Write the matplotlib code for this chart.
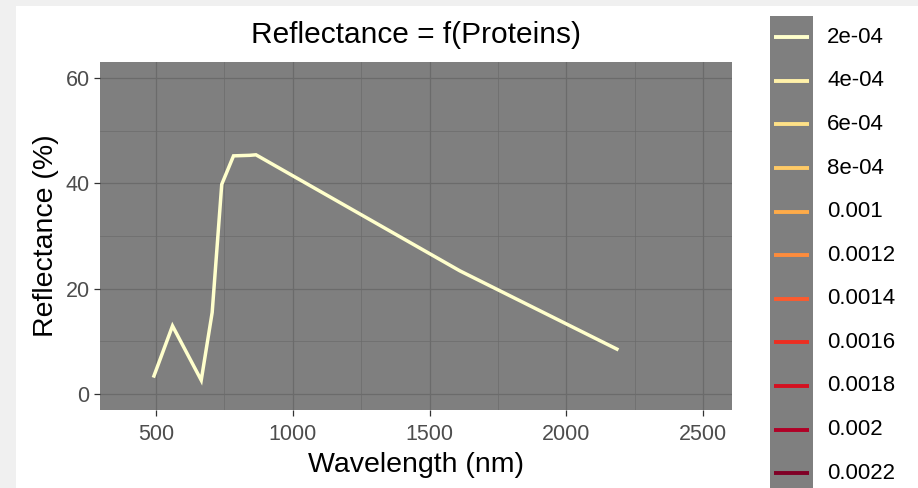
import numpy as np
import matplotlib.pyplot as plt
from matplotlib.patches import Rectangle

plt.rcParams['font.family'] = ['Liberation Sans', 'DejaVu Sans']

# Sentinel-2 band centres and reflectance
wavelength = [490, 560, 665, 705, 740, 783, 842, 865, 1610, 2190]
reflectance = [3.15, 12.95, 2.65, 15.5, 39.8, 45.2, 45.3, 45.4, 23.4, 8.4]

# legend levels
levels = ['2e-04', '4e-04', '6e-04', '8e-04', '0.001', '0.0012', '0.0014',
          '0.0016', '0.0018', '0.002', '0.0022']

W, H = 918, 488
fig = plt.figure(figsize=(W / 100, H / 100), dpi=100)
fig.patch.set_facecolor('#f0f0f0')
fig.add_artist(Rectangle((16 / W, 0), 1, 1 - 6 / H, transform=fig.transFigure,
                         facecolor='white', edgecolor='none', zorder=-10))

cmap = plt.get_cmap('YlOrRd')
colors = [cmap(i / (len(levels) - 1)) for i in range(len(levels))]

# main panel
ax = fig.add_axes([100 / W, 1 - 410 / H, 632 / W, 348 / H])
ax.set_facecolor('#7f7f7f')
ax.plot(wavelength, reflectance, color=colors[0], lw=2.5, solid_capstyle='butt',
        solid_joinstyle='miter', zorder=3)
ax.set_xlim(295, 2605)
ax.set_ylim(-3, 63)
ax.set_xticks([500, 1000, 1500, 2000, 2500])
ax.set_yticks([0, 20, 40, 60])
ax.set_xticks([750, 1250, 1750, 2250], minor=True)
ax.set_yticks([10, 30, 50], minor=True)
ax.grid(which='major', color='#6b6b6b', lw=0.9)
ax.grid(which='minor', color='#6b6b6b', lw=0.5)
ax.set_axisbelow(True)
for s in ax.spines.values():
    s.set_visible(False)
ax.tick_params(which='major', length=4, width=0.9, color='#333333',
               labelcolor='#4d4d4d', labelsize=15.5, pad=3.5)
ax.tick_params(axis='x', pad=6)
ax.tick_params(which='minor', length=0)
ax.set_xlabel('Wavelength (nm)', fontsize=20.5, labelpad=5)
ax.set_ylabel('Reflectance (%)', fontsize=20.5, labelpad=5)
ax.set_title('Reflectance = f(Proteins)', fontsize=21.5, pad=14)

# legend keys
lg = fig.add_axes([770 / W, 0, 43 / W, (H - 15.7) / H])
lg.set_facecolor('#7f7f7f')
lg.set_xlim(0, 1)
lg.set_ylim(10.34, -0.495)
lg.set_xticks([])
lg.set_yticks([])
for s in lg.spines.values():
    s.set_visible(False)
for i, (lab, c) in enumerate(zip(levels, colors)):
    lg.plot([0.093, 0.907], [i, i], color=c, lw=2.8, solid_capstyle='butt')
    lg.text(1.33, i, lab, fontsize=16, va='center', ha='left',
            transform=lg.get_yaxis_transform(), clip_on=False)

fig.savefig('out.png', dpi=100, facecolor=fig.get_facecolor())
